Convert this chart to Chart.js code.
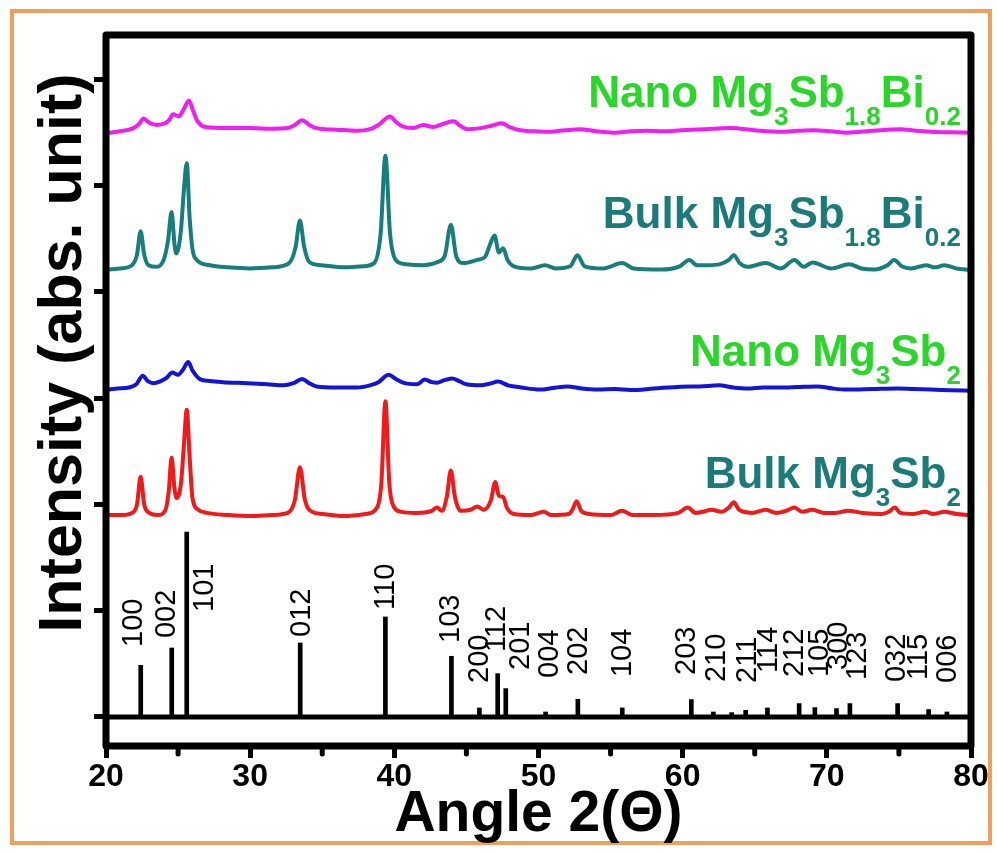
<!DOCTYPE html>
<html><head><meta charset="utf-8">
<script src="https://cdn.jsdelivr.net/npm/chart.js@4.4.1/dist/chart.umd.min.js"></script>
<style>html,body{margin:0;padding:0;background:#fff;}canvas{display:block;}</style>
</head><body>
<canvas id="c" width="997" height="854"></canvas>
<script>
// ---------- data ----------
const angleTicks = [20, 30, 40, 50, 60, 70, 80];
const minorAngleTicks = [25, 35, 45, 55, 65, 75];
const intensityTicks = [0, 100, 200, 300, 400, 500, 600];

const bulkMg3Sb2 = [[20.1,190],[21.0,190],[21.8,192],[22.15,200],[22.4,226],[22.65,200],[23.0,192],[23.6,190],[24.1,194],[24.35,212],[24.55,244],[24.75,215],[24.9,206],[25.2,220],[25.4,255],[25.6,289],[25.8,245],[26.0,206],[26.4,195],[27.0,192],[28.5,190],[30.0,189],[31.5,190],[32.6,192],[33.1,204],[33.45,235],[33.8,204],[34.3,193],[35.0,191],[36.5,189],[38.0,191],[38.8,197],[39.1,220],[39.38,297],[39.65,220],[39.95,198],[40.5,193],[41.5,192],[42.6,194],[42.95,197],[43.3,194],[43.65,208],[43.92,232],[44.2,207],[44.6,194],[45.3,195],[45.75,198],[46.2,195],[46.7,204],[47.0,221],[47.25,208],[47.55,207],[47.8,197],[48.3,191],[49.5,190],[50.35,193],[50.9,190],[52.1,191],[52.35,195],[52.65,203],[52.95,194],[53.5,191],[55.0,190],[55.8,194],[56.5,190],[58.0,190],[59.7,192],[60.35,197],[60.9,192],[61.4,193],[62.0,195],[62.7,193],[63.2,197],[63.55,202],[63.9,195],[64.8,192],[65.76,195],[66.5,192],[67.2,194],[67.75,197],[68.3,193],[69.0,195],[69.8,192],[70.6,192],[71.45,194],[72.5,192],[73.8,191],[74.3,193],[74.7,197],[75.1,192],[76.0,191],[76.8,193],[77.4,191],[78.15,193],[79.0,191],[79.9,190]];

const nanoMg3Sb2 = [[20.1,308],[20.8,309],[21.6,310],[22.1,313],[22.55,321],[22.9,316],[23.3,314],[23.8,316],[24.2,319],[24.6,324],[25.0,322],[25.35,327],[25.7,334],[26.0,326],[26.5,318],[27.2,316],[28.1,315],[29.8,314],[31.2,313],[32.3,312],[33.0,314],[33.6,318],[34.1,314],[34.6,311],[36.0,310],[37.4,310],[38.3,312],[38.9,315],[39.6,322],[40.1,318],[40.6,314.5],[41.6,313],[42.1,317.5],[42.6,315],[43.0,314.5],[43.3,316],[44.0,318.5],[44.5,316],[45.0,313],[46.0,312],[46.6,313.5],[47.2,315.5],[47.9,312],[48.8,310],[50.1,308],[51.0,309.5],[52.0,311],[53.0,309],[54.1,308],[55.3,308.5],[56.4,307.6],[58.0,309],[59.9,310.7],[61.2,311],[62.5,312],[63.5,310],[64.5,309],[65.6,310],[66.8,310],[68.0,310.5],[69.35,311],[70.4,309],[71.4,308],[73.2,308.5],[74.9,309],[76.0,308.5],[77.2,308],[78.6,307.5],[79.9,307]];

const bulkMg3Sb18Bi02 = [[20.1,421],[21.0,422],[21.8,425],[22.15,435],[22.4,457],[22.65,435],[22.95,425],[23.5,423.5],[24.0,430],[24.3,448],[24.55,475],[24.75,445],[24.88,436],[25.2,458],[25.4,495],[25.6,521],[25.8,470],[26.0,440],[26.3,430],[27.2,425],[28.5,423],[30.0,422],[31.5,423],[32.7,427],[33.15,442],[33.45,467],[33.75,442],[34.1,428],[34.9,425],[36.5,423],[37.8,424],[38.6,427],[39.05,455],[39.38,528],[39.7,455],[40.1,430],[40.8,426],[42.0,425],[43.0,428],[43.5,434],[43.92,463],[44.3,433],[44.8,427],[45.75,430],[46.3,433],[46.65,445],[46.95,453],[47.25,437],[47.55,441],[47.85,430],[48.3,424],[49.5,422],[50.45,425],[51.2,422],[52.2,424],[52.7,434.5],[53.2,424],[54.5,422],[55.8,427],[56.6,422],[58.5,421],[59.8,424],[60.45,430],[61.0,425],[61.75,425],[62.6,426],[63.2,430],[63.55,434.5],[63.95,427],[64.5,423.5],[65.76,427],[66.8,422],[67.75,430],[68.4,423.5],[69.0,427.5],[70.3,422],[71.55,426],[72.4,422],[73.3,421],[74.2,425],[74.67,430],[75.2,424],[75.85,422],[76.88,425],[77.5,423],[78.15,425],[79.0,422],[79.9,420.5]];

const nanoMg3Sb18Bi02 = [[20.1,549.5],[21.0,551],[21.9,554],[22.3,558],[22.6,563],[23.0,559],[23.5,557],[24.1,558.5],[24.4,562],[24.65,567],[25.05,565],[25.4,572],[25.75,580],[26.05,570],[26.3,561.5],[26.9,555],[28.5,554],[30.0,554],[31.5,553.5],[32.6,554],[33.1,557],[33.6,561.5],[34.1,557],[34.6,554],[36.0,552.5],[37.4,551.5],[38.3,553],[38.9,557],[39.7,565],[40.1,560],[40.5,556],[41.3,554],[42.0,557],[42.7,555],[43.2,557],[43.6,559],[44.1,560.5],[44.6,556],[45.05,553],[46.0,554],[46.8,556.5],[47.45,558.5],[48.0,555],[48.75,552],[49.7,551],[50.6,550.5],[51.8,552],[52.9,553],[54.0,551],[55.2,549.7],[56.4,551],[57.5,551.5],[58.7,551],[59.9,552],[61.6,553],[63.3,554],[65.0,552],[66.8,550.6],[68.0,551.5],[69.1,552],[70.3,551],[71.4,549.7],[73.2,551.5],[75.1,553],[76.2,551.5],[77.2,550.6],[78.6,550],[79.9,549.7]];

// reference pattern (sticks)
const hklLabels    = ['100','002','101','012','110','103','200','112','201','004','202','104','203','210','','211','114','212','105','300','123','032','115','006'];
const hklAngles    = [22.41,24.56,25.6,33.47,39.38,43.96,45.9,47.17,47.73,50.49,52.73,55.81,60.6,62.13,63.4,64.37,65.88,68.08,69.17,70.67,71.6,74.91,77.06,78.33];
const hklIntensity = [48.6,64.9,174,69.6,94.1,57.1,8.5,40.8,26.7,4.7,16.7,8.5,16.4,4.7,4.1,6.3,8.5,12.6,8.8,7.9,12.6,12.6,7,4.7];
const patternBaseline = [[20,0],[80,0]];

// ---------- layout / style (not data) ----------
const hklLabelAnchorX = [21.94,24.2,26.84,33.58,39.44,43.96,45.97,47.15,48.82,50.83,52.78,55.83,60.28,62.36,63.4,64.51,65.97,67.78,69.51,70.83,72.15,74.86,76.39,78.4];
const hklLabelAnchorY = [65.9,74.3,98.8,75.3,100.7,69.6,32,61.1,44.2,36.7,39.5,37.6,39.5,32.9,0,32,41.4,37.6,37.6,44.2,34.8,32.9,34.8,32];

const GREEN = '#2ad62a', TEAL = '#1a7b78';
const seriesLabels = [
  {parts:[['Nano Mg',0],['3',1],['Sb',0],['1.8',1],['Bi',0],['0.2',1]], color:GREEN, x:79.3, y:573.9},
  {parts:[['Bulk Mg',0],['3',1],['Sb',0],['1.8',1],['Bi',0],['0.2',1]], color:TEAL,  x:79.3, y:460},
  {parts:[['Nano Mg',0],['3',1],['Sb',0],['2',1]], color:GREEN, x:79.3, y:330},
  {parts:[['Bulk Mg',0],['3',1],['Sb',0],['2',1]], color:TEAL,  x:79.3, y:215.4}
];

const FONT = "'Liberation Sans', Arial, Helvetica, sans-serif";
const toXY = arr => arr.map(p => ({x:p[0], y:p[1]}));

const decor = {
  id: 'decor',
  beforeDraw(chart) {
    const {ctx, width, height} = chart;
    ctx.save();
    ctx.fillStyle = '#ffffff';
    ctx.fillRect(0, 0, width, height);
    ctx.strokeStyle = '#f0a05c';
    ctx.lineWidth = 4;
    ctx.strokeRect(12, 11, 978, 832);
    ctx.restore();
  },
  afterDraw(chart) {
    const {ctx, chartArea: a, scales: {x, y}} = chart;
    ctx.save();
    // minor ticks on x
    ctx.strokeStyle = '#000'; ctx.lineWidth = 5; ctx.lineCap = 'round';
    minorAngleTicks.forEach(v => {
      const px = x.getPixelForValue(v);
      ctx.beginPath(); ctx.moveTo(px, a.bottom); ctx.lineTo(px, a.bottom + 8); ctx.stroke();
    });
    // frame
    ctx.lineWidth = 7; ctx.lineJoin = 'round'; ctx.lineCap = 'butt';
    ctx.strokeRect(a.left, a.top, a.right - a.left, a.bottom - a.top);
    // hkl labels
    ctx.fillStyle = '#000';
    ctx.font = '29px ' + FONT;
    ctx.textAlign = 'left'; ctx.textBaseline = 'middle';
    hklLabels.forEach((t, i) => {
      if (!t) return;
      const px = x.getPixelForValue(hklLabelAnchorX[i]);
      const py = y.getPixelForValue(hklLabelAnchorY[i]);
      ctx.save(); ctx.translate(px, py); ctx.rotate(-Math.PI / 2);
      ctx.fillText(t, 0, 0); ctx.restore();
    });
    // series labels
    ctx.textBaseline = 'alphabetic'; ctx.textAlign = 'left';
    seriesLabels.forEach(s => {
      const big = 'bold 44px ' + FONT, small = 'bold 26px ' + FONT;
      let w = 0;
      s.parts.forEach(p => { ctx.font = p[1] ? small : big; w += ctx.measureText(p[0]).width; });
      let px = x.getPixelForValue(s.x) - w;
      const py = y.getPixelForValue(s.y);
      ctx.fillStyle = s.color;
      s.parts.forEach(p => {
        ctx.font = p[1] ? small : big;
        ctx.fillText(p[0], px, p[1] ? py + 18 : py);
        px += ctx.measureText(p[0]).width;
      });
    });
    // y title
    ctx.fillStyle = '#000';
    ctx.font = 'bold 61px ' + FONT;
    ctx.textAlign = 'center'; ctx.textBaseline = 'middle';
    ctx.translate(64, 353); ctx.rotate(-Math.PI / 2);
    ctx.fillText('Intensity (abs. unit)', 0, 0);
    ctx.restore();
  }
};

const lineDs = (label, arr, color) => ({
  type: 'line', label, data: toXY(arr), borderColor: color, borderWidth: 4,
  pointRadius: 0, fill: false, cubicInterpolationMode: 'monotone'
});

new Chart(document.getElementById('c'), {
  type: 'line',
  data: {
    datasets: [
      {type:'line', label:'pattern baseline', data: toXY(patternBaseline), borderColor:'#000', borderWidth:5, pointRadius:0, fill:false},
      {type:'bar', label:'Mg3Sb2 reference', data: hklAngles.map((a, i) => ({x:a, y:hklIntensity[i]})), backgroundColor:'#000', borderWidth:0, barThickness:4},
      lineDs('Bulk Mg3Sb2', bulkMg3Sb2, '#ef1a1a'),
      lineDs('Nano Mg3Sb2', nanoMg3Sb2, '#1414d6'),
      lineDs('Bulk Mg3Sb1.8Bi0.2', bulkMg3Sb18Bi02, '#177e7c'),
      lineDs('Nano Mg3Sb1.8Bi0.2', nanoMg3Sb18Bi02, '#f01ef0')
    ]
  },
  options: {
    responsive: false, animation: false, devicePixelRatio: 1,
    layout: {padding: {left: 0, right: 26, top: 35, bottom: 0}},
    plugins: {legend: {display: false}, tooltip: {enabled: false}},
    scales: {
      x: {
        type: 'linear', min: 20, max: 80, offset: false,
        afterBuildTicks: s => { s.ticks = angleTicks.map(v => ({value: v})); },
        afterFit: s => { s.height = 854 - 746; },
        grid: {offset: false, drawOnChartArea: false, drawTicks: true, tickLength: 12, tickWidth: 5, tickColor: '#000'},
        border: {display: false},
        ticks: {color: '#000', font: {family: FONT, size: 32, weight: 'bold'}, padding: 0, maxRotation: 0, autoSkip: false},
        title: {display: true, text: 'Angle 2(Θ)', color: '#000', font: {family: FONT, size: 57, weight: 'bold', lineHeight: 1}, padding: {top: 0, bottom: 10}}
      },
      y: {
        type: 'linear', min: -27.3, max: 641.6,
        afterBuildTicks: s => { s.ticks = intensityTicks.map(v => ({value: v})); },
        afterFit: s => { s.width = 106; },
        grid: {drawOnChartArea: false, drawTicks: true, tickLength: 12, tickWidth: 5, tickColor: '#000'},
        border: {display: false},
        ticks: {display: false}
      }
    }
  },
  plugins: [decor]
});
</script>
</body></html>
